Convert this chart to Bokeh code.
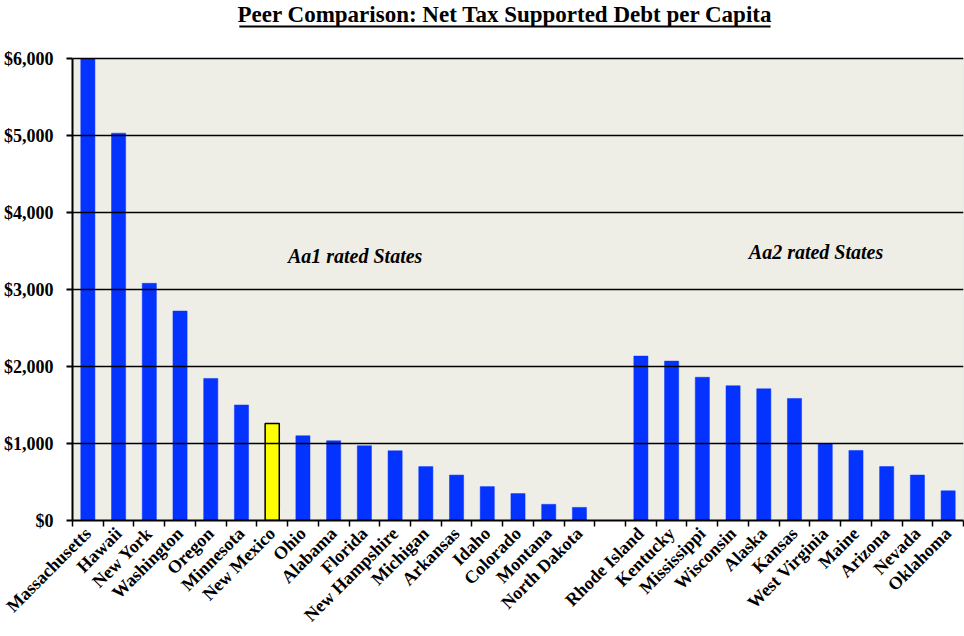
import math
from bokeh.plotting import figure
from bokeh.models import (Range1d, FixedTicker, NumeralTickFormatter, Label,
                          BoxAnnotation, ColumnDataSource)
from bokeh.embed import file_html
from bokeh.resources import INLINE

# ---- data ----
aa1_states = ["Massachusetts", "Hawaii", "New York", "Washington", "Oregon", "Minnesota",
              "New Mexico", "Ohio", "Alabama", "Florida", "New Hampshire", "Michigan",
              "Arkansas", "Idaho", "Colorado", "Montana", "North Dakota"]
aa1_debt = [6000, 5030, 3080, 2720, 1845, 1500, 1260, 1100, 1035, 970, 905, 700,
            590, 440, 350, 210, 170]
aa2_states = ["Rhode Island", "Kentucky", "Mississippi", "Wisconsin", "Alaska", "Kansas",
              "West Virginia", "Maine", "Arizona", "Nevada", "Oklahoma"]
aa2_debt = [2135, 2070, 1860, 1750, 1710, 1585, 1000, 910, 700, 590, 385]
highlight_state = "New Mexico"
y_ticks = [0, 1000, 2000, 3000, 4000, 5000, 6000]
y_max = 6000
title_text = "Peer Comparison: Net Tax Supported Debt per Capita"

FONT = "Liberation Serif"
BLUE = "#0433FF"

# ---- layout (pixels) ----
W, H = 964, 636
BORDER_BOTTOM = 116
TOP_GAP = 58                      # white band above the plotting area (title)
frame_h = H - BORDER_BOTTOM
units_per_px = y_max / (frame_h - TOP_GAP)
y_end = y_max + TOP_GAP * units_per_px

def y_at(px_from_top):
    """data y for a screen row inside the white title band"""
    return y_max + (TOP_GAP - px_from_top) * units_per_px

# one empty slot between the two rating groups
slots = aa1_states + [None] + aa2_states
x_pos, names, vals = [], [], []
for i, s in enumerate(aa1_states):
    x_pos.append(i); names.append(s); vals.append(aa1_debt[i])
off = len(aa1_states) + 1
for i, s in enumerate(aa2_states):
    x_pos.append(off + i); names.append(s); vals.append(aa2_debt[i])

fill = ["#FFFF00" if n == highlight_state else BLUE for n in names]
line = ["#000000" if n == highlight_state else BLUE for n in names]
lw = [1.5 if n == highlight_state else 0.5 for n in names]
src = ColumnDataSource(dict(x=x_pos, top=vals, name=names, fill=fill, line=line, lw=lw))

n_slots = len(slots)
x0, x1 = -0.5, n_slots - 0.5
p = figure(width=W, height=H, output_backend="svg", toolbar_location=None,
           x_range=Range1d(x0, x1), y_range=Range1d(0, y_end),
           min_border_left=71, min_border_right=1, min_border_top=0,
           min_border_bottom=BORDER_BOTTOM)

p.background_fill_color = "#FFFFFF"
p.border_fill_color = "#FFFFFF"
p.outline_line_color = None

# plotting area (beige panel with thin grey border)
p.add_layout(BoxAnnotation(left=x0, right=x1, bottom=0, top=y_max,
                           fill_color="#EFEEE6", fill_alpha=1.0,
                           line_color="#8A8A8A", line_width=1, level="underlay"))

p.xgrid.visible = False
p.ygrid.ticker = FixedTicker(ticks=y_ticks)
p.ygrid.grid_line_color = "#000000"
p.ygrid.grid_line_width = 1.6
p.ygrid.level = "glyph"

p.vbar(x="x", top="top", width=0.46, source=src, fill_color="fill",
       line_color="line", line_width="lw")

# y axis
p.yaxis.ticker = FixedTicker(ticks=y_ticks)
p.yaxis.bounds = (0, y_max)
p.yaxis.formatter = NumeralTickFormatter(format="$0,0")
p.yaxis.major_label_text_font = FONT
p.yaxis.major_label_text_font_size = "18px"
p.yaxis.major_label_text_font_style = "bold"
p.yaxis.major_label_text_color = "#000000"
p.yaxis.axis_line_width = 2
p.yaxis.axis_line_color = "#000000"
p.yaxis.major_tick_out = 6
p.yaxis.major_tick_in = 0
p.yaxis.major_tick_line_width = 2
p.yaxis.minor_tick_line_color = None
p.yaxis.major_label_standoff = 13

# x axis: labels at category centres, tick marks at slot boundaries
bounds = [i - 0.5 for i in range(n_slots + 1)]
p.xaxis.ticker = FixedTicker(ticks=list(x_pos), minor_ticks=bounds)
p.xaxis.major_label_overrides = {x: n for x, n in zip(x_pos, names)}
p.xaxis.major_label_orientation = math.pi / 4
p.xaxis.major_label_text_font = FONT
p.xaxis.major_label_text_font_size = "18px"
p.xaxis.major_label_text_font_style = "bold"
p.xaxis.major_label_text_color = "#000000"
p.xaxis.major_tick_out = 0
p.xaxis.major_tick_in = 0
p.xaxis.minor_tick_out = 6
p.xaxis.minor_tick_in = 0
p.xaxis.minor_tick_line_width = 1.5
p.xaxis.minor_tick_line_color = "#000000"
p.xaxis.axis_line_width = 2
p.xaxis.axis_line_color = "#000000"
p.xaxis.major_label_standoff = 4

# title, underlined
p.add_layout(Label(x=13.58, y=y_at(14), text=title_text, text_align="center",
                   text_baseline="middle", text_font=FONT, text_font_size="23px",
                   text_font_style="bold", text_color="#000000"))
p.add_layout(BoxAnnotation(left=4.93, right=22.22, top=y_at(25), bottom=y_at(27),
                           fill_color="#000000", fill_alpha=1.0, line_color=None))

for txt, x, y in [("Aa1 rated States", 8.7, 3430), ("Aa2 rated States", 23.7, 3485)]:
    p.add_layout(Label(x=x, y=y, text=txt, text_align="center", text_baseline="middle",
                       text_font=FONT, text_font_size="20px", text_font_style="bold italic",
                       text_color="#000000"))

open("out.html", "w").write(file_html(p, INLINE))
